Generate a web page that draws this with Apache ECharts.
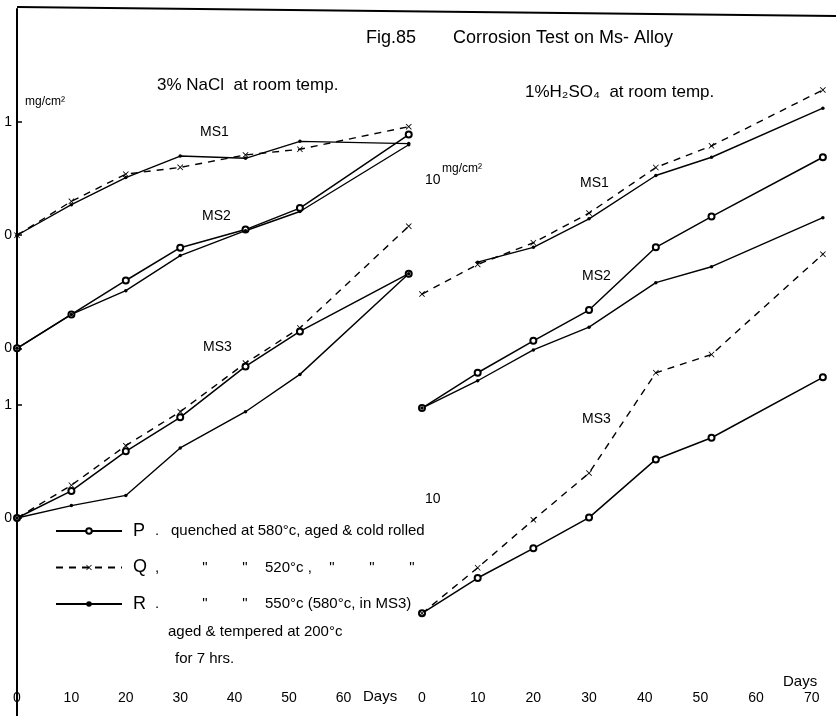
<!DOCTYPE html>
<html><head><meta charset="utf-8">
<script src="https://cdn.jsdelivr.net/npm/echarts@6/dist/echarts.min.js"></script>
<style>html,body{margin:0;padding:0;background:#fff}#c{width:836px;height:716px}</style>
</head><body><div id="c"></div><script>
// test days
const days = [0, 10, 20, 30, 42, 52, 72];
// 3% NaCl at room temp. (mg/cm2)
const naclMS1_Q = [0, 0.30, 0.54, 0.60, 0.71, 0.76, 0.96];
const naclMS1_R = [0, 0.27, 0.51, 0.70, 0.68, 0.83, 0.81];
const naclMS2_P = [0, 0.30, 0.60, 0.89, 1.05, 1.24, 1.89];
const naclMS2_R = [0, 0.30, 0.51, 0.82, 1.04, 1.21, 1.80];
const naclMS3_P = [0, 0.24, 0.59, 0.89, 1.34, 1.65, 2.16];
const naclMS3_Q = [0, 0.29, 0.64, 0.94, 1.37, 1.68, 2.58];
const naclMS3_R = [0, 0.11, 0.20, 0.62, 0.94, 1.27, 2.16];
// 1% H2SO4 at room temp. (mg/cm2)
const h2so4MS1_Q = [0, 2.6, 4.5, 7.1, 11.1, 13.0, 17.9];
const h2so4MS1_R = [null, 2.8, 4.1, 6.6, 10.4, 12.0, 16.3];
const h2so4MS2_P = [0, 3.1, 5.9, 8.6, 14.1, 16.8, 22.0];
const h2so4MS2_R = [0, 2.4, 5.1, 7.1, 11.0, 12.4, 16.7];
const h2so4MS3_P = [0, 3.1, 5.7, 8.4, 13.5, 15.4, 20.7];
const h2so4MS3_Q = [0, 4.0, 8.2, 12.3, 21.1, 22.7, 31.5];
// vertical offsets of each alloy's curve family (mg/cm2)
const naclOffset = {MS1: 2.5, MS2: 1.5, MS3: 0};
const h2so4Offset = {MS1: 28, MS2: 18, MS3: 0};
// tick labels
const naclXTicks = [0, 10, 20, 30, 40, 50, 60];
const h2so4XTicks = [0, 10, 20, 30, 40, 50, 60, 70];
const naclYTickValues = [0, 1, 1.5, 2.5, 3.5];
const naclYTickLabels = ['0', '1', '0', '0', '1'];
const h2so4YTickValues = [10, 38];
const h2so4YTickLabels = ['10', '10'];

const FONT = 'Liberation Sans';
const XPATH = 'path://M0,1L1,0L5,4L9,0L10,1L6,5L10,9L9,10L5,6L1,10L0,9L4,5Z';
function style(key) {
  if (key === 'P') return {symbol: 'emptyCircle', symbolSize: 6,
    lineStyle: {type: 'solid', width: 1.5, color: '#000'},
    itemStyle: {color: '#000', borderColor: '#000', borderWidth: 1.2}};
  if (key === 'Q') return {symbol: XPATH, symbolSize: 6,
    lineStyle: {type: [7, 6], width: 1.4, color: '#000'},
    itemStyle: {color: '#000'}};
  return {symbol: 'circle', symbolSize: 3.5,
    lineStyle: {type: 'solid', width: 1.4, color: '#000'},
    itemStyle: {color: '#000'}};
}
function pts(vals, off) {
  return days.map((d, i) => vals[i] == null ? [d, '-'] : [d, +(vals[i] + off).toFixed(4)]);
}
const series = [];
function add(key, g, vals, off) {
  series.push(Object.assign({type: 'line', name: key, xAxisIndex: g, yAxisIndex: g,
    data: pts(vals, off), smooth: false, animation: false, connectNulls: false,
    emphasis: {disabled: true}}, style(key)));
}
// order: first of each name defines legend icon
add('P', 0, naclMS2_P, naclOffset.MS2);
add('Q', 0, naclMS1_Q, naclOffset.MS1);
add('R', 0, naclMS1_R, naclOffset.MS1);
add('R', 0, naclMS2_R, naclOffset.MS2);
add('P', 0, naclMS3_P, naclOffset.MS3);
add('Q', 0, naclMS3_Q, naclOffset.MS3);
add('R', 0, naclMS3_R, naclOffset.MS3);
add('Q', 1, h2so4MS1_Q, h2so4Offset.MS1);
add('R', 1, h2so4MS1_R, h2so4Offset.MS1);
add('P', 1, h2so4MS2_P, h2so4Offset.MS2);
add('R', 1, h2so4MS2_R, h2so4Offset.MS2);
add('P', 1, h2so4MS3_P, h2so4Offset.MS3);
add('Q', 1, h2so4MS3_Q, h2so4Offset.MS3);

function lookup(vals, labels) {
  return v => { for (let i = 0; i < vals.length; i++) if (Math.abs(vals[i] - v) < 1e-6) return labels[i]; return ''; };
}
const txt = (x, y, s, size, extra) => ({type: 'text', left: x, top: y, silent: true,
  style: Object.assign({text: s, fontSize: size, fontFamily: FONT, fill: '#000'}, extra || {})});

const legendText = {
  P: '{n|P}{s2|.}{t|quenched at 580°c, aged & cold rolled}',
  Q: '{n|Q}{s|,}{d|"}{d|"}{t|520°c ,}{d|"}{d|"}{d|"}',
  R: '{n|R}{s|.}{d|"}{d|"}{t|550°c (580°c, in MS3)}'
};

const chart = echarts.init(document.getElementById('c'), null, {renderer: 'canvas'});
chart.setOption({
  backgroundColor: '#fff',
  animation: false,
  textStyle: {fontFamily: FONT, color: '#000'},
  grid: [
    {left: 17, top: 9, width: 402.6, height: 707},
    {left: 422, top: 9, width: 412, height: 707}
  ],
  xAxis: [
    {gridIndex: 0, type: 'value', min: 0, max: 74, interval: 10,
      axisLine: {show: false}, axisTick: {show: false}, splitLine: {show: false},
      axisLabel: {inside: true, margin: 11, customValues: naclXTicks, fontSize: 14, color: '#000', fontFamily: FONT}},
    {gridIndex: 1, type: 'value', min: 0, max: 74, interval: 10,
      axisLine: {show: false}, axisTick: {show: false}, splitLine: {show: false},
      axisLabel: {inside: true, margin: 11, customValues: h2so4XTicks, fontSize: 14, color: '#000', fontFamily: FONT}}
  ],
  yAxis: [
    {gridIndex: 0, type: 'value', min: -1.75, max: 4.5,
      axisLine: {show: true, lineStyle: {color: '#000', width: 2}},
      axisTick: {show: true, inside: true, length: 5, customValues: naclYTickValues, lineStyle: {color: '#000', width: 1.5}},
      splitLine: {show: false},
      axisLabel: {customValues: naclYTickValues, formatter: lookup(naclYTickValues, naclYTickLabels),
        margin: 5, fontSize: 14, color: '#000', fontFamily: FONT}},
    {gridIndex: 1, type: 'value', min: -9, max: 53,
      axisLine: {show: false}, axisTick: {show: false}, splitLine: {show: false},
      axisLabel: {inside: true, customValues: h2so4YTickValues, formatter: lookup(h2so4YTickValues, h2so4YTickLabels),
        margin: 3, fontSize: 14, color: '#000', fontFamily: FONT}}
  ],
  legend: {
    left: 50, top: 517, orient: 'vertical', itemWidth: 66, itemHeight: 7, itemGap: 18.5,
    selectedMode: false, data: ['P', 'Q', 'R'],
    formatter: name => legendText[name],
    textStyle: {fontFamily: FONT, color: '#000', fontSize: 15, lineHeight: 18,
      rich: {
        n: {fontSize: 18, width: 22, padding: [0, 0, 0, 6], lineHeight: 18, fontFamily: FONT},
        s: {fontSize: 15, width: 30, lineHeight: 18, fontFamily: FONT},
        s2: {fontSize: 15, width: 16, lineHeight: 18, fontFamily: FONT},
        d: {fontSize: 15, width: 40, align: 'center', lineHeight: 18, fontFamily: FONT},
        t: {fontSize: 15, lineHeight: 18, fontFamily: FONT}
      }}
  },
  graphic: [
    {type: 'line', silent: true, shape: {x1: 17, y1: 7, x2: 836, y2: 16}, style: {stroke: '#000', lineWidth: 2}},
    txt(366, 29, 'Fig.85', 18),
    txt(453, 29, 'Corrosion Test on Ms- Alloy', 18),
    txt(157, 77, '3% NaCl  at room temp.', 17),
    txt(525, 84, '1%H₂SO₄  at room temp.', 17),
    txt(25, 96, 'mg/cm²', 12),
    txt(442, 163, 'mg/cm²', 12),
    txt(200, 125, 'MS1', 14),
    txt(202, 209, 'MS2', 14),
    txt(203, 340, 'MS3', 14),
    txt(580, 176, 'MS1', 14),
    txt(582, 269, 'MS2', 14),
    txt(582, 412, 'MS3', 14),
    txt(363, 689, 'Days', 15),
    txt(783, 674, 'Days', 15),
    txt(168, 624, 'aged & tempered at 200°c', 15),
    txt(175, 651, 'for 7 hrs.', 15)
  ],
  series: series
});
</script></body></html>
